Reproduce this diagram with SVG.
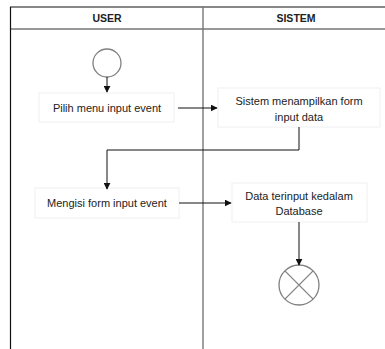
<svg xmlns="http://www.w3.org/2000/svg" width="385" height="349" viewBox="0 0 385 349">
<style>
text{font-family:"Liberation Sans",Arial,sans-serif;fill:#222;font-size:11px;text-anchor:middle}
.hd{font-weight:bold;font-size:10.5px}
.box{fill:#fff;stroke:#f0f0f0;stroke-width:1}
.conn{fill:none;stroke:#111;stroke-width:1}
.circ{fill:#fff;stroke:#808080;stroke-width:1.3}
</style>
<defs>
<marker id="ah" viewBox="0 0 10 10" refX="9" refY="5" markerWidth="7" markerHeight="7" markerUnits="userSpaceOnUse" orient="auto">
<path d="M0,0 L10,5 L0,10 z" fill="#111"/>
</marker>
</defs>
<rect width="385" height="349" fill="#fff"/>
<g id="lanes">
<line x1="10" y1="7" x2="385" y2="7" stroke="#111" stroke-width="1.2"/>
<line x1="10" y1="29" x2="385" y2="29" stroke="#333" stroke-width="1"/>
<line x1="10.5" y1="7" x2="10.5" y2="349" stroke="#111" stroke-width="1.2"/>
<line x1="203" y1="7" x2="203" y2="349" stroke="#777" stroke-width="1.4"/>
<text class="hd" x="107" y="22">USER</text>
<text class="hd" x="296" y="22">SISTEM</text>
</g>
<g id="start"><circle class="circ" cx="107" cy="63" r="14"/></g>
<g id="n1"><rect class="box" x="39" y="93" width="135" height="29"/><text x="107" y="112">Pilih menu input event</text></g>
<g id="n2"><rect class="box" x="218" y="88" width="162" height="39"/><text x="299" y="105">Sistem menampilkan form</text><text x="299" y="121">input data</text></g>
<g id="n3"><rect class="box" x="35" y="188" width="144" height="30"/><text x="107" y="207">Mengisi form input event</text></g>
<g id="n4"><rect class="box" x="232" y="183" width="135" height="39"/><text x="299" y="200">Data terinput kedalam</text><text x="299" y="215">Database</text></g>
<g id="end"><circle class="circ" cx="299" cy="285" r="20"/><path d="M284.9,270.9 L313.1,299.1 M313.1,270.9 L284.9,299.1" stroke="#808080" stroke-width="1.3"/></g>
<g id="connectors">
<path class="conn" d="M107,77 V92" marker-end="url(#ah)"/>
<path class="conn" d="M178,108 H217" marker-end="url(#ah)"/>
<path class="conn" d="M299,127 V150 H107 V189" marker-end="url(#ah)"/>
<path class="conn" d="M179,203 H231" marker-end="url(#ah)"/>
<path class="conn" d="M299,222 V265" marker-end="url(#ah)"/>
</g>
</svg>
